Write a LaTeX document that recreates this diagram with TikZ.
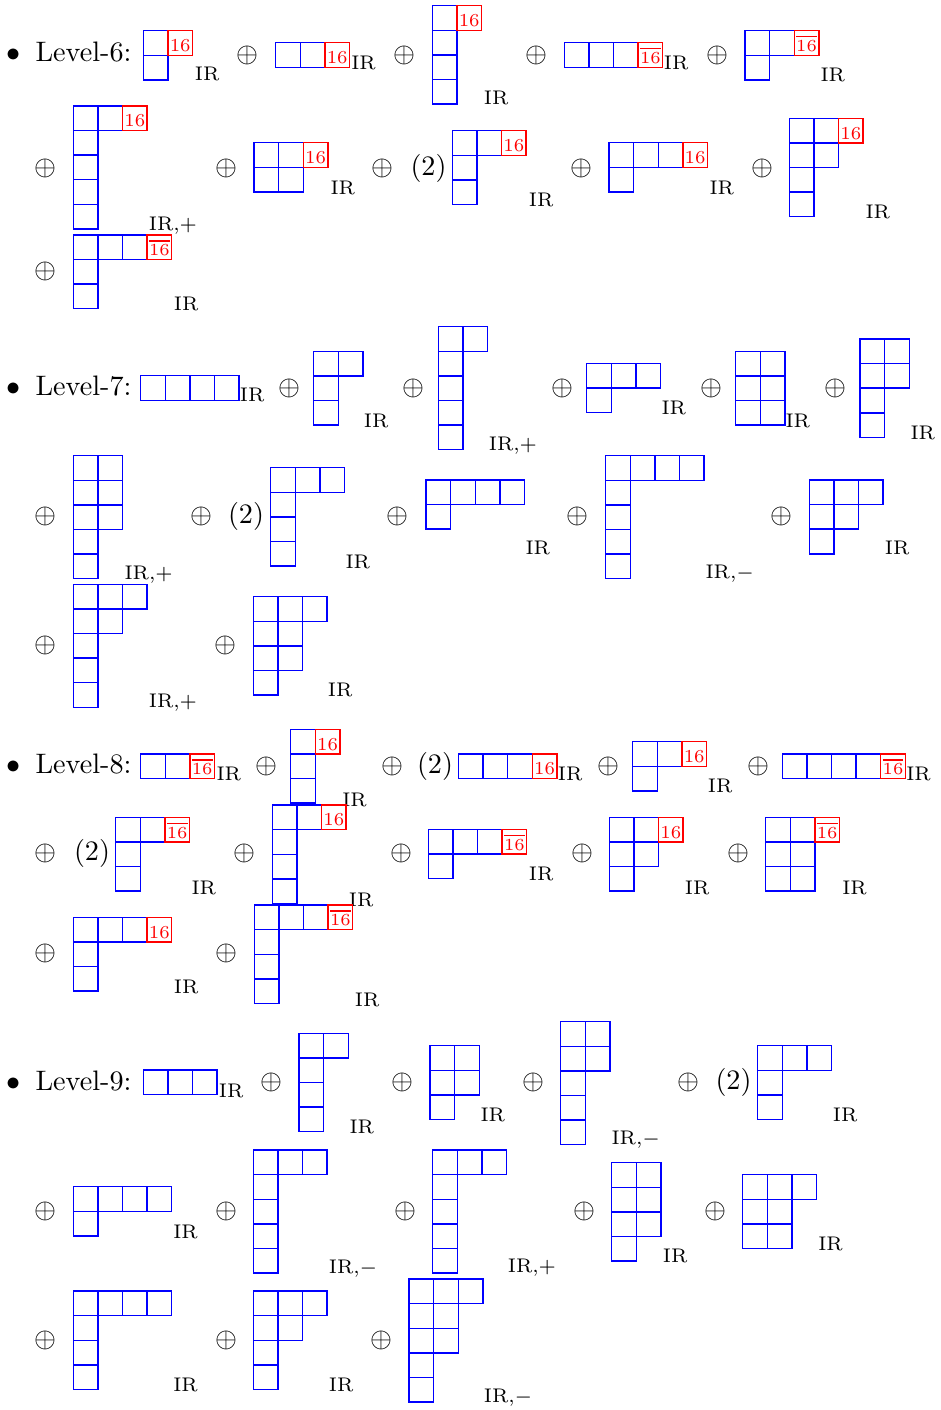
\documentclass[tikz,border=0pt]{standalone}
\newcommand{\ybs}{24.6}
\tikzset{
  ybox/.style={draw=blue, line width=0.5pt},
  rbox/.style={draw=red, line width=0.5pt},
  rlab/.style={text=red, font=\fontsize{6.5}{7.5}\selectfont, anchor=base, inner sep=0pt},
  irlab/.style={anchor=base west, inner sep=0pt, font=\scriptsize},
  osum/.style={inner sep=0pt},
  lvl/.style={anchor=base west, inner sep=0pt},
  bul/.style={anchor=base, inner sep=0pt},
  mult/.style={inner sep=0pt},
}
% Young diagram: x, y (top-left), comma list of row lengths
\newcommand{\YD}[3]{\foreach \yrl [count=\yri from 0] in {#3} {\foreach \ycj in {1,...,\yrl} {\draw[ybox] ({#1+(\ycj-1)*\ybs},{#2+\yri*\ybs}) rectangle ++(\ybs,\ybs);}}}
% red box: name, x, y, text
\newcommand{\RB}[4]{\draw[rbox] (#2,#3) rectangle ++(\ybs,\ybs); \node[rlab] (#1) at ({#2+\ybs/2},{#3+\ybs-3.8}) {#4};}
\newcommand{\OP}[3]{\node[osum] (#1) at (#2,#3) {$\oplus$};}
\newcommand{\IRl}[4]{\node[irlab] (#1) at (#2,#3) {#4};}
\newcommand{\MU}[3]{\node[mult] (#1) at (#2,#3) {$(2)$};}
\newcommand{\sixt}{16}
\newcommand{\sixb}{$\overline{16}$}
\newcommand{\IRp}{IR,$+$}
\newcommand{\IRm}{IR,$-$}
\begin{document}
\begin{tikzpicture}[x=0.355pt,y=-0.355pt]
\useasboundingbox (0,0) rectangle (941,1410);
% ---------------- Level-6
\node[bul] (b6) at (14,61.7) {$\bullet$};
\node[lvl] (l6) at (35,61.7) {Level-6:};
\YD{143.3}{30.7}{1,1} \RB{r61}{167.9}{30.7}{\sixt} \IRl{i61}{194.3}{81}{IR}
\OP{o61}{247}{55}
\YD{275.7}{42.7}{2} \RB{r62}{324.9}{42.7}{\sixt} \IRl{i62}{350.7}{69.3}{IR}
\OP{o62}{404}{55}
\YD{432.3}{5.7}{1,1,1,1} \RB{r63}{456.9}{5.7}{\sixt} \IRl{i63}{483.3}{105}{IR}
\OP{o63}{536}{55}
\YD{564.3}{42.7}{3} \RB{r64}{638.1}{42.7}{\sixb} \IRl{i64}{663.3}{69.3}{IR}
\OP{o64}{717}{55}
\YD{745}{30.7}{2,1} \RB{r65}{794.2}{30.7}{\sixb} \IRl{i65}{820}{81.7}{IR}
\OP{o65}{45.5}{168}
\YD{73.3}{106}{2,1,1,1,1} \RB{r66}{122.5}{106}{\sixt} \IRl{i66}{148.3}{230.3}{\IRp}
\OP{o66}{226}{168}
\YD{254}{142.7}{2,2} \RB{r67}{303.2}{142.7}{\sixt} \IRl{i67}{330}{195}{IR}
\OP{o67}{382}{168}
\MU{m61}{428.5}{168}
\YD{452.3}{130.7}{2,1,1} \RB{r68}{501.5}{130.7}{\sixt} \IRl{i68}{528.3}{206.7}{IR}
\OP{o68}{581}{168}
\YD{609}{142.7}{3,1} \RB{r69}{682.8}{142.7}{\sixt} \IRl{i69}{709}{195}{IR}
\OP{o69}{762}{168}
\YD{789.3}{118.3}{2,2,1,1} \RB{r610}{838.5}{118.3}{\sixt} \IRl{i610}{865}{218.3}{IR}
\OP{o610}{45.5}{271.7}
\YD{73.3}{235}{3,1,1} \RB{r611}{147.1}{235}{\sixb} \IRl{i611}{173.3}{310.7}{IR}
% ---------------- Level-7
\node[bul] (b7) at (14,396) {$\bullet$};
\node[lvl] (l7) at (35,396) {Level-7:};
\YD{140.7}{375.7}{4} \IRl{i71}{239.3}{401.7}{IR}
\OP{o71}{289}{388}
\YD{313.7}{351.3}{2,1,1} \IRl{i72}{363.3}{427.3}{IR}
\OP{o72}{413}{388}
\YD{438.3}{326.7}{2,1,1,1,1} \IRl{i73}{488.3}{450.3}{\IRp}
\OP{o73}{562}{388}
\YD{586.7}{363.3}{3,1} \IRl{i74}{661}{415}{IR}
\OP{o74}{711}{388}
\YD{735.7}{351.3}{2,2,2} \IRl{i75}{785}{427.3}{IR}
\OP{o75}{835.5}{388}
\YD{860}{339}{2,2,1,1} \IRl{i76}{910}{439.3}{IR}
\OP{o76}{45.5}{516.7}
\YD{73.3}{455.7}{2,2,2,1,1} \IRl{i77}{124}{579.3}{\IRp}
\OP{o77}{201}{516.7}
\MU{m71}{246}{516.7}
\YD{270.7}{467.7}{3,1,1,1} \IRl{i78}{345}{568.3}{IR}
\OP{o78}{397.8}{516.7}
\YD{426}{480}{4,1} \IRl{i79}{525}{555}{IR}
\OP{o79}{577.5}{516.7}
\YD{605.7}{455.7}{4,1,1,1,1} \IRl{i710}{705}{578.6}{\IRm}
\OP{o710}{781.5}{516.7}
\YD{809.3}{480}{3,2,1} \IRl{i711}{884.3}{555}{IR}
\OP{o711}{45.5}{645}
\YD{73.3}{584.3}{3,2,1,1,1} \IRl{i712}{148.3}{707.6}{\IRp}
\OP{o712}{225}{645}
\YD{253.3}{596.7}{3,2,2,1} \IRl{i713}{327.3}{696.7}{IR}
% ---------------- Level-8
\node[bul] (b8) at (14,773.3) {$\bullet$};
\node[lvl] (l8) at (35,773.3) {Level-8:};
\YD{140.7}{754}{2} \RB{r81}{189.9}{754}{\sixb} \IRl{i81}{216}{780.7}{IR}
\OP{o81}{266}{766}
\YD{290.7}{729.3}{1,1,1} \RB{r82}{315.3}{729.3}{\sixt} \IRl{i82}{341.7}{806}{IR}
\OP{o82}{392}{766}
\MU{m81}{435}{766}
\YD{458.5}{754}{3} \RB{r83}{532.3}{754}{\sixt} \IRl{i83}{557.3}{780.7}{IR}
\OP{o83}{608}{766}
\YD{632.7}{741.7}{2,1} \RB{r84}{681.9}{741.7}{\sixt} \IRl{i84}{707.3}{792.7}{IR}
\OP{o84}{758}{766}
\YD{782.3}{754}{4} \RB{r85}{880.7}{754}{\sixb} \IRl{i85}{905.7}{780.7}{IR}
\OP{o85}{45.5}{853.3}
\MU{m82}{92}{853.3}
\YD{115.7}{817.3}{2,1,1} \RB{r86}{164.9}{817.3}{\sixb} \IRl{i86}{191}{894}{IR}
\OP{o86}{244}{853.3}
\YD{272.3}{805}{2,1,1,1} \RB{r87}{321.5}{805}{\sixt} \IRl{i87}{348.3}{906}{IR}
\OP{o87}{401}{853.3}
\YD{428.3}{829.3}{3,1} \RB{r88}{502.1}{829.3}{\sixb} \IRl{i88}{528.3}{880}{IR}
\OP{o88}{582}{853.3}
\YD{609.3}{817.3}{2,2,1} \RB{r89}{658.5}{817.3}{\sixt} \IRl{i89}{684.3}{894}{IR}
\OP{o89}{738}{853.3}
\YD{765.7}{817.3}{2,2,2} \RB{r810}{814.9}{817.3}{\sixb} \IRl{i810}{841.7}{894}{IR}
\OP{o810}{45.5}{953.3}
\YD{73.3}{917.3}{3,1,1} \RB{r811}{147.1}{917.3}{\sixt} \IRl{i811}{173.3}{993.3}{IR}
\OP{o811}{226.7}{953.3}
\YD{254.3}{905}{3,1,1,1} \RB{r812}{328.1}{905}{\sixb} \IRl{i812}{354.3}{1006}{IR}
% ---------------- Level-9
\node[bul] (b9) at (14,1090.7) {$\bullet$};
\node[lvl] (l9) at (35,1090.7) {Level-9:};
\YD{143.3}{1070}{3} \IRl{i91}{218.3}{1097.3}{IR}
\OP{o91}{271}{1082.7}
\YD{299}{1033.3}{2,1,1,1} \IRl{i92}{349}{1133.3}{IR}
\OP{o92}{402}{1082.7}
\YD{430}{1045.7}{2,2,1} \IRl{i93}{480}{1121.7}{IR}
\OP{o93}{533}{1082.7}
\YD{560.7}{1021.7}{2,2,1,1,1} \IRl{i94}{611}{1144.3}{\IRm}
\OP{o94}{688}{1082.7}
\MU{m91}{733.5}{1082.7}
\YD{757.7}{1045.7}{3,1,1} \IRl{i95}{832.3}{1121.7}{IR}
\OP{o95}{45.5}{1211.7}
\YD{73.3}{1186.7}{4,1} \IRl{i96}{172.7}{1238.3}{IR}
\OP{o96}{226}{1211.7}
\YD{253.3}{1150}{3,1,1,1,1} \IRl{i97}{328.3}{1273.6}{\IRm}
\OP{o97}{405}{1211.7}
\YD{432.7}{1150}{3,1,1,1,1} \IRl{i98}{507.3}{1272}{\IRp}
\OP{o98}{584}{1211.7}
\YD{611.7}{1162.7}{2,2,2,1} \IRl{i99}{662.3}{1262.3}{IR}
\OP{o99}{715.5}{1211.7}
\YD{742.7}{1174.7}{3,2,2} \IRl{i910}{817.7}{1250}{IR}
\OP{o910}{45.5}{1340}
\YD{73.3}{1291}{4,1,1,1} \IRl{i911}{172.7}{1391.7}{IR}
\OP{o911}{226}{1340}
\YD{253.3}{1291}{3,2,1,1} \IRl{i912}{328.3}{1391.7}{IR}
\OP{o912}{381}{1340}
\YD{409}{1279}{3,2,2,1,1} \IRl{i913}{483.3}{1402}{\IRm}
\end{tikzpicture}
\end{document}
